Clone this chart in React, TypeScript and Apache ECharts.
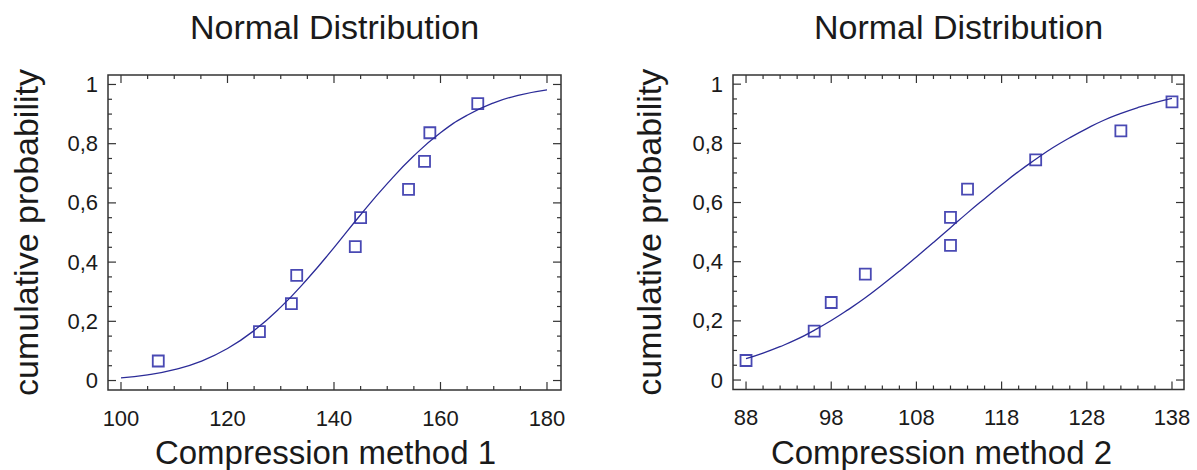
import React, { useEffect, useRef } from "react";
import * as echarts from "echarts";

// ---- data ----
const titles = ["Normal Distribution", "Normal Distribution"];
const xNames = ["Compression method 1", "Compression method 2"];
const yName = "cumulative probability";

const xTicks1 = [100, 120, 140, 160, 180];
const xTicks2 = [88, 98, 108, 118, 128, 138];
const yTicks = [0, 0.2, 0.4, 0.6, 0.8, 1];

const obsX1 = [107, 126, 132, 133, 144, 145, 154, 157, 158, 167];
const obsP1 = [0.066, 0.165, 0.26, 0.355, 0.452, 0.55, 0.646, 0.74, 0.837, 0.935];
const obsX2 = [88, 96, 98, 102, 112, 112, 114, 122, 132, 138];
const obsP2 = [0.066, 0.165, 0.262, 0.358, 0.455, 0.55, 0.645, 0.744, 0.842, 0.94];

const curveX1 = [100, 105, 110, 115, 120, 125, 130, 135, 140, 145, 150, 155, 160, 165, 170, 175, 180];
const curveY1 = [0.009, 0.019, 0.037, 0.065, 0.108, 0.169, 0.248, 0.343, 0.449, 0.56, 0.665, 0.759, 0.837, 0.896, 0.938, 0.965, 0.982];
const curveX2 = [88, 90, 92, 94, 96, 98, 100, 102, 104, 106, 108, 110, 112, 114, 116, 118, 120, 122, 124, 126, 128, 130, 132, 134, 136, 138];
const curveY2 = [0.072, 0.091, 0.113, 0.138, 0.168, 0.201, 0.238, 0.278, 0.322, 0.368, 0.416, 0.465, 0.515, 0.565, 0.613, 0.66, 0.705, 0.746, 0.785, 0.819, 0.85, 0.878, 0.901, 0.921, 0.938, 0.952];

const FONT = "'Liberation Sans', Arial, sans-serif";
const TXT = "#1a1a1a";
const BOX = "#333333";
const MARK = "#1c1ca0";
const LINE = "#2c2c98";

type Panel = {
  ticks: number[];
  minorSplit: number;
  box: { x: number; y: number; w: number; h: number };
  xRange: [number, number];
  yRange: [number, number];
  nameShift: number;
  yNameGap: number;
};

const panels: Panel[] = [
  {
    ticks: xTicks1,
    minorSplit: 4,
    box: { x: 108, y: 75, w: 453, h: 315 },
    xRange: [97.56, 182.63],
    yRange: [-0.032, 1.032],
    nameShift: 9,
    yNameGap: 65,
  },
  {
    ticks: xTicks2,
    minorSplit: 5,
    box: { x: 733, y: 75, w: 451, h: 314.5 },
    xRange: [86.47, 139.41],
    yRange: [-0.032, 1.031],
    nameShift: 17,
    yNameGap: 67,
  },
];

const fmtY = (v: number) => String(Math.round(v * 10) / 10).replace(".", ",");

function minorsOf(majors: number[], split: number): number[] {
  const out: number[] = [];
  for (let k = 0; k < majors.length - 1; k++) {
    const step = (majors[k + 1] - majors[k]) / split;
    for (let j = 1; j < split; j++) out.push(Math.round((majors[k] + step * j) * 1000) / 1000);
  }
  return out;
}

function buildOption() {
  const grid: any[] = [];
  const xAxis: any[] = [];
  const yAxis: any[] = [];
  const graphic: any[] = [];
  const series: any[] = [];

  panels.forEach((p, i) => {
    const b = p.box;
    grid.push({
      left: b.x,
      top: b.y,
      width: b.w,
      height: b.h,
      containLabel: false,
      outerBoundsMode: "none",
    });

    xAxis.push({
      type: "value",
      gridIndex: i,
      position: "bottom",
      min: p.xRange[0],
      max: p.xRange[1],
      axisLine: { show: false, onZero: false },
      axisTick: { show: false },
      splitLine: { show: false },
      axisLabel: { show: true, customValues: p.ticks, margin: 17, fontSize: 22, color: TXT, fontFamily: FONT },
      name: xNames[i],
      nameLocation: "middle",
      nameGap: 46,
      nameTextStyle: { fontSize: 33, color: TXT, fontFamily: FONT, padding: [0, p.nameShift * 2, 0, 0] },
    });
    yAxis.push({
      type: "value",
      gridIndex: i,
      position: "left",
      min: p.yRange[0],
      max: p.yRange[1],
      axisLine: { show: false, onZero: false },
      axisTick: { show: false },
      splitLine: { show: false },
      axisLabel: { show: true, customValues: yTicks, margin: 10, fontSize: 22, color: TXT, fontFamily: FONT, formatter: fmtY },
      name: yName,
      nameLocation: "middle",
      nameGap: p.yNameGap,
      nameRotate: 90,
      nameTextStyle: { fontSize: 34, color: TXT, fontFamily: FONT },
    });

    graphic.push({
      type: "text",
      x: b.x + b.w / 2,
      y: 10,
      style: {
        text: titles[i],
        fontSize: 34,
        fontFamily: FONT,
        fill: TXT,
        align: "center",
        verticalAlign: "top",
      },
      silent: true,
    });

    // tick marks on all four sides, placed through the axes' own scales.
    // item: [xValue, yValue, dxPx, dyPx]
    const xr = p.xRange;
    const yr = p.yRange;
    const tickData: number[][] = [];
    const xMin = minorsOf(p.ticks, p.minorSplit);
    const yMin = minorsOf(yTicks, 4);
    p.ticks.forEach((v) => { tickData.push([v, yr[0], 0, -8]); tickData.push([v, yr[1], 0, 8]); });
    xMin.forEach((v) => { tickData.push([v, yr[0], 0, -4]); tickData.push([v, yr[1], 0, 4]); });
    yTicks.forEach((v) => { tickData.push([xr[0], v, 8, 0]); tickData.push([xr[1], v, -8, 0]); });
    yMin.forEach((v) => { tickData.push([xr[0], v, 4, 0]); tickData.push([xr[1], v, -4, 0]); });
    series.push({
      type: "custom",
      xAxisIndex: i,
      yAxisIndex: i,
      data: tickData,
      encode: { x: 0, y: 1 },
      clip: false,
      silent: true,
      z: 5,
      renderItem: (_params: any, api: any) => {
        const pt = api.coord([api.value(0), api.value(1)]);
        const dx = api.value(2);
        const dy = api.value(3);
        return {
          type: "line",
          shape: { x1: pt[0], y1: pt[1], x2: pt[0] + dx, y2: pt[1] + dy },
          style: { stroke: BOX, lineWidth: 1.2 },
        };
      },
    });
    // plot frame drawn from the axis extents
    series.push({
      type: "custom",
      xAxisIndex: i,
      yAxisIndex: i,
      data: [[xr[0], yr[1], xr[1], yr[0]]],
      encode: { x: [0, 2], y: [1, 3] },
      clip: false,
      silent: true,
      z: 6,
      renderItem: (_params: any, api: any) => {
        const a = api.coord([api.value(0), api.value(1)]);
        const c = api.coord([api.value(2), api.value(3)]);
        return {
          type: "rect",
          shape: { x: a[0], y: a[1], width: c[0] - a[0], height: c[1] - a[1] },
          style: { fill: "none", stroke: BOX, lineWidth: 1.5 },
        };
      },
    });

    const cx = i === 0 ? curveX1 : curveX2;
    const cy = i === 0 ? curveY1 : curveY2;
    const ox = i === 0 ? obsX1 : obsX2;
    const oy = i === 0 ? obsP1 : obsP2;
    series.push({
      type: "line",
      xAxisIndex: i,
      yAxisIndex: i,
      data: cx.map((x, k) => [x, cy[k]]),
      showSymbol: false,
      smooth: true,
      lineStyle: { color: LINE, width: 1.3 },
      silent: true,
    });
    series.push({
      type: "scatter",
      xAxisIndex: i,
      yAxisIndex: i,
      data: ox.map((x, k) => [x, oy[k]]),
      symbol: "rect",
      symbolSize: 11,
      itemStyle: { color: "rgba(255,255,255,0)", borderColor: MARK, borderWidth: 1.8 },
      silent: true,
    });
  });

  return {
    animation: false,
    backgroundColor: "#ffffff",
    grid,
    xAxis,
    yAxis,
    graphic,
    series,
  };
}

export default function App() {
  const ref = useRef<HTMLDivElement>(null);
  useEffect(() => {
    if (!ref.current) return;
    const chart = echarts.init(ref.current, undefined, { renderer: "svg" });
    chart.setOption(buildOption() as any);
    return () => chart.dispose();
  }, []);
  return (
    <div
      ref={ref}
      style={{ position: "fixed", left: 0, top: 0, width: 1197, height: 470, background: "#fff" }}
    />
  );
}
